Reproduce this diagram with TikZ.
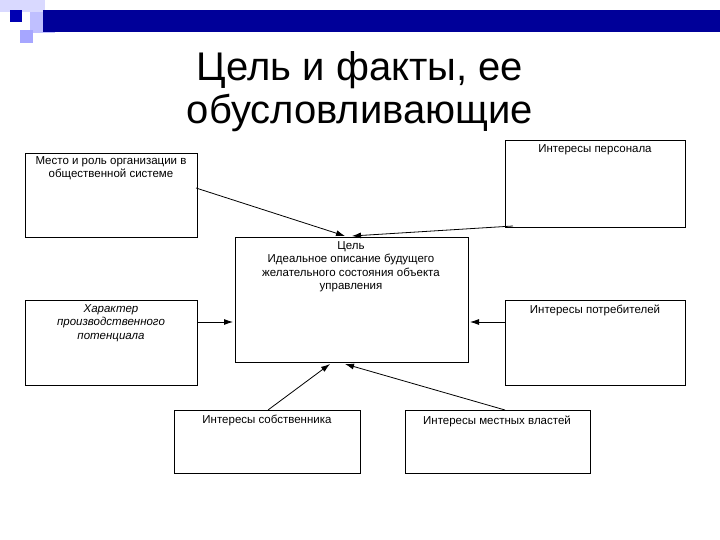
\documentclass[tikz,border=0pt]{standalone}
\usepackage{fontspec}
\setmainfont{Liberation Sans}
\usetikzlibrary{arrows.meta}
\begin{document}
\begin{tikzpicture}[x=1pt,y=-1pt,
  box/.style={draw,line width=0.8pt},
  lbl/.style={font=\fontsize{11.5}{13.5}\selectfont,align=center,anchor=north},
  arr/.style={-{Latex[length=9pt,width=6pt]},line width=0.8pt}]
\useasboundingbox (0,0) rectangle (720,540);
% decoration
\fill[blue!15] (0,0) rectangle (45,12);
\fill[blue!25] (30,12) rectangle (55,33);
\fill[blue!35] (20,30) rectangle (33,43);
\fill[blue!60!black] (43,10) rectangle (720,32);
\fill[blue!70!black] (10,10) rectangle (22,22);
% title
\node[font=\fontsize{40}{43}\selectfont,align=center] (title) at (360,92) {Цель и факты, ее\\обусловливающие};
% boxes
\node[box,minimum width=172,minimum height=84,anchor=north west] (b1) at (25,153) {};
\node[lbl,anchor=north] (t1) at (111,153) {Место и роль организации в\\общественной системе};
\node[box,minimum width=180,minimum height=87,anchor=north west] (b2) at (505,140) {};
\node[lbl] (t2) at (595,141) {Интересы персонала};
\node[box,minimum width=233,minimum height=125,anchor=north west] (c) at (235,237) {};
\node[lbl] (tc) at (351,238) {Цель\\Идеальное описание будущего\\желательного состояния объекта\\управления};
\node[box,minimum width=172,minimum height=85,anchor=north west] (b3) at (25,300) {};
\node[lbl,font=\itshape\fontsize{11.5}{13.5}\selectfont] (t3) at (111,301) {Характер\\производственного\\потенциала};
\node[box,minimum width=180,minimum height=85,anchor=north west] (b4) at (505,300) {};
\node[lbl] (t4) at (595,301) {Интересы потребителей};
\node[box,minimum width=186,minimum height=63,anchor=north west] (b5) at (174,410) {};
\node[lbl] (t5) at (267,412) {Интересы собственника};
\node[box,minimum width=185,minimum height=63,anchor=north west] (b6) at (405,410) {};
\node[lbl] (t6) at (497,412) {Интересы местных властей};
% arrows
\coordinate (p1) at (196,188);
\coordinate (p2) at (513,226);
\draw[arr] (p1) -- (345,236);
\draw[arr] (p2) -- (352,236);
\draw[arr] (197,322) -- (233,322);
\draw[arr] (505,322) -- (470,322);
\draw[arr] (268,410) -- (330,364);
\draw[arr] (505,410) -- (345,364);
\end{tikzpicture}
\end{document}
